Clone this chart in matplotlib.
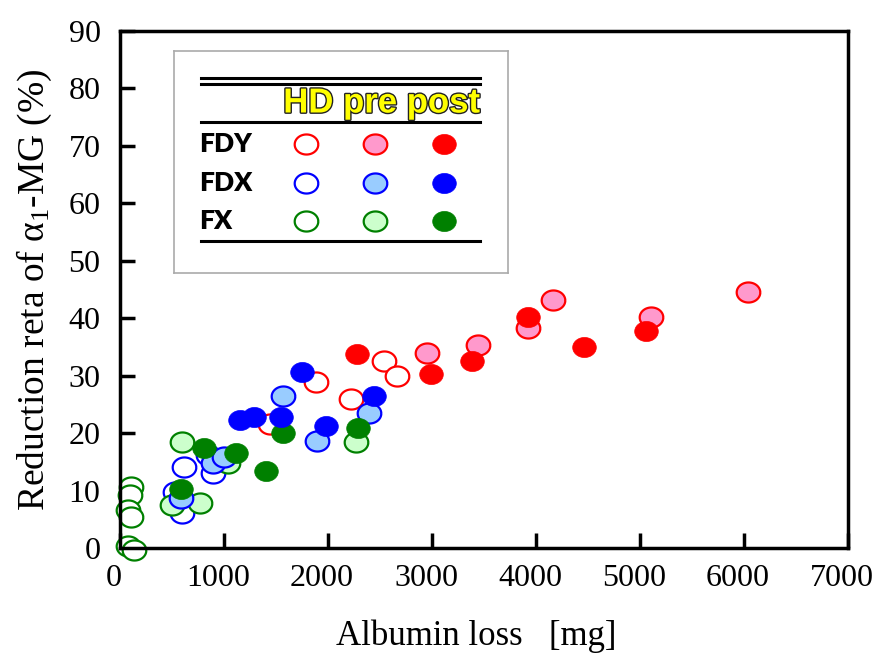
#   import modules
import matplotlib.pyplot as plt
import matplotlib.patheffects as pe
import matplotlib.transforms as mtransforms
from matplotlib.path import Path
import numpy as np

plt.rcParams['font.family'] = ['Liberation Serif', 'DejaVu Serif']
plt.rcParams['mathtext.fontset'] = 'custom'
plt.rcParams['mathtext.rm'] = 'Liberation Serif'
plt.rcParams['mathtext.it'] = 'Liberation Serif:italic'

#   data: albumin loss [mg] and reduction rate [%]
fdy_hd_x = [1442, 1883, 2220, 2540, 2660]
fdy_hd_y = [21.7, 29.0, 26.0, 32.6, 30.0]
fdy_pre_x = [2949, 3440, 3926, 4167, 5106, 6042]
fdy_pre_y = [34.0, 35.4, 38.3, 43.2, 40.2, 44.5]
fdy_post_x = [2280, 2990, 3380, 3923, 4465, 5058]
fdy_post_y = [33.8, 30.4, 32.5, 40.3, 35.0, 37.8]

fdx_hd_x = [529, 593, 612, 849, 897]
fdx_hd_y = [9.8, 6.1, 14.2, 16.2, 13.1]
fdx_pre_x = [587, 897, 1003, 1571, 1891, 2390]
fdx_pre_y = [8.7, 14.9, 15.9, 26.5, 18.7, 23.5]
fdx_post_x = [1154, 1288, 1551, 1747, 1984, 2440]
fdx_post_y = [22.3, 22.8, 22.9, 30.7, 21.3, 26.5]

fx_hd_x = [106, 96, 80, 106, 80, 135]
fx_hd_y = [10.7, 9.3, 6.7, 5.5, 0.4, -0.3]
fx_pre_x = [593, 497, 769, 1035, 2266]
fx_pre_y = [18.4, 7.6, 7.8, 14.8, 18.5]
fx_post_x = [587, 811, 1115, 1401, 1567, 2292]
fx_post_y = [10.3, 17.5, 16.6, 13.5, 20.0, 21.0]

x_ticks = [0, 1000, 2000, 3000, 4000, 5000, 6000, 7000]
y_ticks = [0, 10, 20, 30, 40, 50, 60, 70, 80, 90]

row_names = ['FDY', 'FDX', 'FX']
edge_colors = ['#ff0000', '#0000ff', '#008000']
pre_fill = ['#ff99cc', '#99ccff', '#ccffcc']

#   slightly wide ellipse marker
t = np.linspace(0, 2 * np.pi, 60)
ellipse = Path(np.column_stack([1.0 * np.cos(t), 0.85 * np.sin(t)]))
ms = 17

fig = plt.figure(figsize=(8.75, 6.63), dpi=100)
ax = fig.add_axes([120 / 875, (663 - 548.3) / 663, 728 / 875, 517.5 / 663])


def draw(axis, x, y, i, kind):
    color = edge_colors[i]
    if kind == 'hd':
        axis.plot(x, y, ls='none', marker=ellipse, ms=ms, mfc='white',
                  mec=color, mew=1.6, clip_on=False)
    elif kind == 'pre':
        axis.plot(x, y, ls='none', marker=ellipse, ms=ms, mfc=pre_fill[i],
                  mec=color, mew=1.6, clip_on=False)
    else:
        axis.plot(x, y, ls='none', marker=ellipse, ms=ms, mfc=color,
                  mec=color, mew=0.5, clip_on=False)


#   open (HD) first, then pre, then post on top
for x, y, i in [(fx_hd_x, fx_hd_y, 2), (fdx_hd_x, fdx_hd_y, 1), (fdy_hd_x, fdy_hd_y, 0)]:
    draw(ax, x, y, i, 'hd')
for x, y, i in [(fx_pre_x, fx_pre_y, 2), (fdx_pre_x, fdx_pre_y, 1), (fdy_pre_x, fdy_pre_y, 0)]:
    draw(ax, x, y, i, 'pre')
for x, y, i in [(fx_post_x, fx_post_y, 2), (fdx_post_x, fdx_post_y, 1), (fdy_post_x, fdy_post_y, 0)]:
    draw(ax, x, y, i, 'post')

ax.set_xlim(0, 7000)
ax.set_ylim(0, 90)
ax.set_xticks(x_ticks)
ax.set_yticks(y_ticks)
for s in ax.spines.values():
    s.set_linewidth(2.5)
ax.tick_params(direction='in', length=11, width=2.5, labelsize=23)
ax.tick_params(axis='x', pad=11)
ax.tick_params(axis='y', pad=14)
#   tick labels sit a little left of the ticks in the original
shift = mtransforms.ScaledTranslation(-6 / 100, 0, fig.dpi_scale_trans)
for lab in ax.get_xticklabels():
    lab.set_transform(lab.get_transform() + shift)
ax.set_xlabel('Albumin loss   [mg]', fontsize=25)
ax.set_ylabel('Reduction reta of α$_1$-MG (%)', fontsize=27)
ax.xaxis.set_label_coords(0.49, -0.137)
ax.yaxis.set_label_coords(-0.09, 0.5)

#   legend box, drawn in pixel coordinates
lg = fig.add_axes([174 / 875, (663 - 273) / 663, 334 / 875, 222 / 663])
lg.set_xlim(174, 508)
lg.set_ylim(273, 51)
lg.set_xticks([])
lg.set_yticks([])
for s in lg.spines.values():
    s.set_color('#aaaaaa')
    s.set_linewidth(1.2)
for yy in [78.3, 83.5, 122.3, 241.3]:
    lg.plot([201, 480], [yy, yy], color='black', lw=2.2)
lg.text(480, 103, 'HD pre post', ha='right', va='center', fontsize=25,
        family='Liberation Sans', weight='bold', color='#ffff00',
        path_effects=[pe.withStroke(linewidth=2.0, foreground='#222222')])
row_y = [144, 182.7, 221]
col_x = [305.7, 375, 444.3]
for i, name in enumerate(row_names):
    lg.text(199, row_y[i], name, ha='left', va='center', fontsize=19,
            family='Lato', weight='heavy')
    draw(lg, [col_x[0]], [row_y[i]], i, 'hd')
    draw(lg, [col_x[1]], [row_y[i]], i, 'pre')
    draw(lg, [col_x[2]], [row_y[i]], i, 'post')

fig.savefig('out.png', dpi=100)
